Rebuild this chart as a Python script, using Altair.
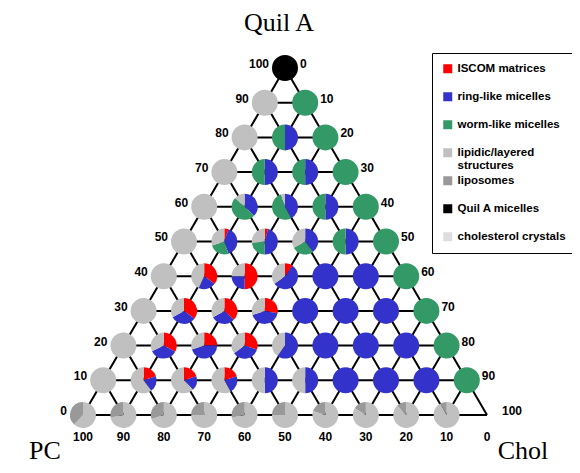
import altair as alt
import pandas as pd

# ---- categories / colours ----
categories = ["ISCOM matrices", "ring-like micelles", "worm-like micelles",
              "lipidic/layered structures", "liposomes", "Quil A micelles",
              "cholesterol crystals"]
cat_colors = ["#ff0000", "#3333cc", "#339966", "#c0c0c0", "#999999", "#000000", "#dddddd"]

# ---- pie positions (Quil A %, PC %; Chol = 100 - both) ----
pie_quila = [100,
             90, 90,
             80, 80, 80,
             70, 70, 70, 70,
             60, 60, 60, 60, 60,
             50, 50, 50, 50, 50, 50,
             40, 40, 40, 40, 40, 40, 40,
             30, 30, 30, 30, 30, 30, 30, 30,
             20, 20, 20, 20, 20, 20, 20, 20, 20,
             10, 10, 10, 10, 10, 10, 10, 10, 10, 10,
             0, 0, 0, 0, 0, 0, 0, 0, 0, 0]
pie_pc = [0,
          10, 0,
          20, 10, 0,
          30, 20, 10, 0,
          40, 30, 20, 10, 0,
          50, 40, 30, 20, 10, 0,
          60, 50, 40, 30, 20, 10, 0,
          70, 60, 50, 40, 30, 20, 10, 0,
          80, 70, 60, 50, 40, 30, 20, 10, 0,
          90, 80, 70, 60, 50, 40, 30, 20, 10, 0,
          100, 90, 80, 70, 60, 50, 40, 30, 20, 10]

# ---- pie compositions (% of each pie) ----
iscom_pct = [0,
             0, 0,
             0, 0, 0,
             0, 0, 0, 0,
             0, 0, 0, 0, 0,
             0, 5, 4, 0, 0, 0,
             0, 35, 50, 10, 0, 0, 0,
             0, 35, 37, 28, 0, 0, 0, 0,
             0, 33, 25, 30, 0, 0, 0, 0, 0,
             0, 20, 20, 20, 0, 0, 0, 0, 0, 0,
             0, 0, 0, 0, 0, 0, 0, 0, 0, 0]
ring_pct = [0,
            0, 0,
            0, 50, 0,
            0, 50, 50, 0,
            0, 37, 42, 50, 0,
            0, 40, 46, 40, 50, 0,
            0, 22, 25, 55, 100, 100, 0,
            0, 32, 30, 42, 100, 100, 100, 0,
            0, 35, 45, 35, 60, 100, 100, 100, 0,
            0, 20, 18, 22, 50, 50, 100, 100, 100, 0,
            0, 0, 0, 0, 0, 0, 0, 0, 0, 0]
worm_pct = [0,
            0, 100,
            0, 50, 100,
            0, 50, 50, 100,
            0, 50, 53, 50, 100,
            0, 25, 23, 27, 50, 100,
            0, 0, 0, 0, 0, 0, 100,
            0, 0, 0, 0, 0, 0, 0, 100,
            0, 0, 0, 0, 0, 0, 0, 0, 100,
            0, 0, 0, 0, 0, 0, 0, 0, 0, 100,
            0, 0, 0, 0, 0, 0, 0, 0, 0, 0]
lipidic_pct = [0,
               100, 0,
               100, 0, 0,
               100, 0, 0, 0,
               100, 13, 5, 0, 0,
               100, 30, 27, 33, 0, 0,
               100, 43, 25, 35, 0, 0, 0,
               100, 33, 33, 30, 0, 0, 0, 0,
               100, 32, 30, 35, 40, 0, 0, 0, 0,
               100, 60, 62, 58, 50, 50, 0, 0, 0, 0,
               62, 72, 70, 75, 72, 75, 80, 84, 88, 92]
liposome_pct = [0,
                0, 0,
                0, 0, 0,
                0, 0, 0, 0,
                0, 0, 0, 0, 0,
                0, 0, 0, 0, 0, 0,
                0, 0, 0, 0, 0, 0, 0,
                0, 0, 0, 0, 0, 0, 0, 0,
                0, 0, 0, 0, 0, 0, 0, 0, 0,
                0, 0, 0, 0, 0, 0, 0, 0, 0, 0,
                38, 28, 30, 25, 28, 25, 20, 16, 12, 8]
quilmic_pct = [100,
               0, 0,
               0, 0, 0,
               0, 0, 0, 0,
               0, 0, 0, 0, 0,
               0, 0, 0, 0, 0, 0,
               0, 0, 0, 0, 0, 0, 0,
               0, 0, 0, 0, 0, 0, 0, 0,
               0, 0, 0, 0, 0, 0, 0, 0, 0,
               0, 0, 0, 0, 0, 0, 0, 0, 0, 0,
               0, 0, 0, 0, 0, 0, 0, 0, 0, 0]

# ---- cholesterol-crystal region (ternary: Quil A %, left boundary in x-units) ----
region_quila = [97, 56.5, 31.5, 4.5, 4.5, 0]
region_left = [50.3, 62.6, 51.0, 62.0, 0.5, 0.5]

# ---- grid / tick values ----
grid_vals = [0, 10, 20, 30, 40, 50, 60, 70, 80, 90]
tick_vals = [0, 10, 20, 30, 40, 50, 60, 70, 80, 90, 100]


def tx(q, p):
    """ternary -> cartesian x units (0..100)"""
    c = 100 - q - p
    return c + q / 2.0


# pies (long form)
comp = [iscom_pct, ring_pct, worm_pct, lipidic_pct, liposome_pct, quilmic_pct]
rows = []
for i, (q, p) in enumerate(zip(pie_quila, pie_pc)):
    for k, vals in enumerate(comp):
        if vals[i] > 0:
            rows.append({"id": i, "xt": tx(q, p), "yt": q, "cat": categories[k],
                         "ord": k, "pct": vals[i]})
pies = pd.DataFrame(rows)

# grid lines
g = []
for v in grid_vals:
    g.append({"x": v / 2, "y": v, "x2": 100 - v / 2, "y2": v})          # Quil A const
    g.append({"x": (100 - v) / 2, "y": 100 - v, "x2": 100 - v, "y2": 0})  # PC const
    g.append({"x": 50 + v / 2, "y": 100 - v, "x2": v, "y2": 0})          # Chol const
grid = pd.DataFrame(g)

region = pd.DataFrame({"q": region_quila, "left": region_left,
                       "right": [100 - q / 2 for q in region_quila],
                       "ord": list(range(len(region_quila)))})

left_lab = pd.DataFrame({"x": [tx(v, 100 - v) for v in tick_vals], "y": tick_vals,
                         "t": [str(v) for v in tick_vals]})
right_lab = pd.DataFrame({"x": [tx(100 - v, 0) for v in tick_vals],
                          "y": [100 - v for v in tick_vals],
                          "t": [str(v) for v in tick_vals]})
bottom_lab = pd.DataFrame({"x": [tx(0, v) for v in tick_vals], "y": [0] * len(tick_vals),
                           "t": [str(v) for v in tick_vals]})

xs = alt.Scale(domain=[-18.564, 121.04], nice=False, zero=False)
ys = alt.Scale(domain=[-14.41, 117.29], nice=False, zero=False)

X = lambda f: alt.X(f, type="quantitative", scale=xs, axis=None)
Y = lambda f: alt.Y(f, type="quantitative", scale=ys, axis=None)

area = alt.Chart(region).mark_area(orient="horizontal", color="#dddddd", opacity=1).encode(
    y=Y("q"), x=X("left"), x2="right", order="ord:Q")

rules = alt.Chart(grid).mark_rule(color="black", strokeWidth=2).encode(
    x=X("x"), y=Y("y"), x2="x2", y2="y2")

arcs = alt.Chart(pies).transform_stack(
    stack="pct", groupby=["id"], as_=["t0", "t1"], sort=[alt.SortField("ord")]
).mark_arc(radius=13).encode(
    x=X("xt"), y=Y("yt"),
    theta=alt.Theta("t0:Q", stack=None, scale=alt.Scale(domain=[0, 100], range=[0, 6.283185])),
    theta2="t1",
    color=alt.Color("cat:N", scale=alt.Scale(domain=categories, range=cat_colors),
                    legend=alt.Legend(
                        title=None, orient="none", legendX=424, legendY=45,
                        symbolType="square", symbolSize=81, symbolStrokeWidth=0,
                        symbolOpacity=1,
                        labelFont="Liberation Sans", labelFontSize=11.5,
                        labelFontWeight="bold", labelColor="black", labelOffset=4,
                        labelLimit=250, labelBaseline="middle",
                        gridAlign="all", rowPadding=2, padding=10,
                        strokeColor="black",
                        labelExpr="datum.label == 'lipidic/layered structures' ? ['lipidic/layered', 'structures'] : datum.label")),
)

tfont = dict(font="Liberation Sans", fontSize=12, fontWeight="bold", color="black")
ltext = alt.Chart(left_lab).mark_text(align="right", baseline="middle", dx=-16, dy=-4, **tfont).encode(
    x=X("x"), y=Y("y"), text="t:N")
rtext = alt.Chart(right_lab).mark_text(align="left", baseline="middle", dx=15, dy=-4, **tfont).encode(
    x=X("x"), y=Y("y"), text="t:N")
btext = alt.Chart(bottom_lab).mark_text(align="center", baseline="middle", dy=22, **tfont).encode(
    x=X("x"), y=Y("y"), text="t:N")

sfont = dict(font="Liberation Serif", fontSize=26, color="black", baseline="alphabetic")
apex = pd.DataFrame({"x": [tx(100, 0)], "y": [100], "t": ["Quil A"]})
pcc = pd.DataFrame({"x": [tx(0, 100)], "y": [0], "t": ["PC"]})
chc = pd.DataFrame({"x": [tx(0, 0)], "y": [0], "t": ["Chol"]})
t1 = alt.Chart(apex).mark_text(align="center", dx=-6, dy=-37, **sfont).encode(x=X("x"), y=Y("y"), text="t:N")
t2 = alt.Chart(pcc).mark_text(align="center", dx=-38, dy=44, **sfont).encode(x=X("x"), y=Y("y"), text="t:N")
t3 = alt.Chart(chc).mark_text(align="center", dx=36, dy=44, **sfont).encode(x=X("x"), y=Y("y"), text="t:N")

chart = alt.layer(area, rules, arcs, ltext, rtext, btext, t1, t2, t3).properties(
    width=564, height=457, padding=0, autosize=alt.AutoSizeParams(type="none"),
    background="white"
).configure_view(strokeWidth=0)

chart.save("out.html", embed_options={"renderer": "svg", "actions": False})
